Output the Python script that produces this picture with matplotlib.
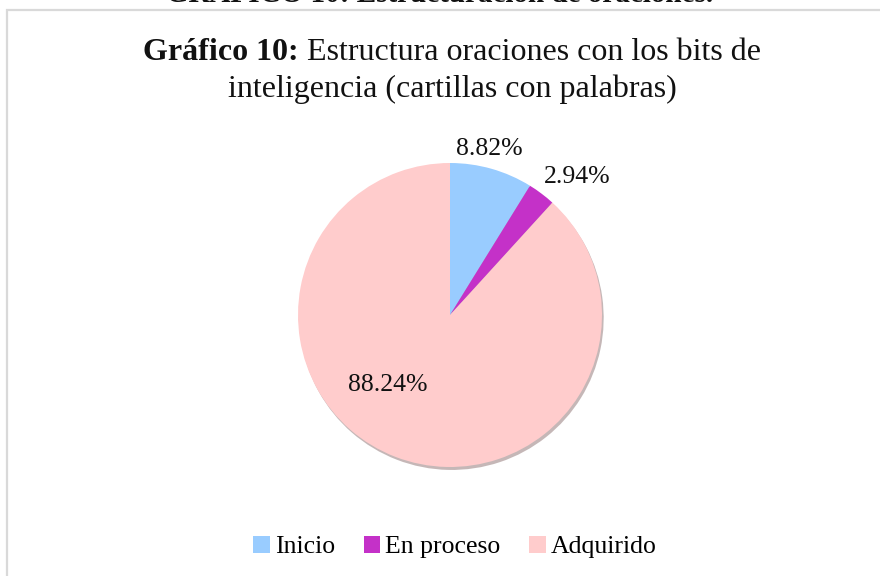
import matplotlib
matplotlib.use('Agg')
import matplotlib.pyplot as plt
from matplotlib.patches import Rectangle, Patch

categories = ['Inicio', 'En proceso', 'Adquirido']
percentages = [8.82, 2.94, 88.24]
colors = ['#99CCFF', '#C431C8', '#FFCCCC']
# where Excel put the data labels (pie radius units)
label_pos = [(0.26, 1.09), (0.84, 0.91), (-0.41, -0.46)]

plt.rcParams['font.family'] = ['Liberation Serif', 'DejaVu Serif']

W, H = 880, 576
fig = plt.figure(figsize=(W / 100, H / 100), dpi=100)

# chart-area frame, cut off at right and bottom
fig.patches.append(Rectangle((7 / W, -0.1), 1.1, 1 - 10 / H + 0.1, transform=fig.transFigure,
                             fill=False, edgecolor='#d9d9d9', linewidth=1.6))

# heading of the page, mostly cropped off the top
fig.text(0.5, 1 - 2 / H, 'GRÁFICO 10: Estructuración de oraciones.', ha='center', va='baseline',
         fontsize=21, fontweight='bold', color='#111111')

# title line one: bold part + regular part, centered together
tcx = 452
t1 = fig.text(0, 1 - 60 / H, 'Gráfico 10: ', ha='left', va='baseline', fontsize=23,
              fontweight='bold', color='#111111')
t2 = fig.text(0, 1 - 60 / H, 'Estructura oraciones con los bits de', ha='left', va='baseline',
              fontsize=23, color='#111111')
fig.canvas.draw()
r = fig.canvas.get_renderer()
bold_w = t1.get_window_extent(r).width
rest_w = t2.get_window_extent(r).width
x0 = tcx - (bold_w + rest_w) / 2
t1.set_x(x0 / W)
t2.set_x((x0 + bold_w) / W)
fig.text(tcx / W, 1 - 97 / H, 'inteligencia (cartillas con palabras)', ha='center', va='baseline',
         fontsize=23, color='#111111')

cx, cy, rad = 450, 315, 152
ax = fig.add_axes([(cx - rad) / W, (H - cy - rad) / H, 2 * rad / W, 2 * rad / H])
wedges, _, autotexts = ax.pie(percentages, colors=colors, startangle=90, counterclock=False,
                              autopct=lambda p: '', shadow={'ox': 0.008, 'oy': -0.014, 'shade': 0.45},
                              wedgeprops={'linewidth': 0})
for txt, p, (lx, ly) in zip(autotexts, percentages, label_pos):
    txt.set_text('{:.2f}%'.format(p))
    txt.set_position((lx, ly))
    txt.set_fontsize(18.5)
    txt.set_color('#111111')
    txt.set_clip_on(False)
ax.set_xlim(-1, 1)
ax.set_ylim(-1, 1)
ax.set_aspect('equal')
ax.axis('off')

handles = [Patch(facecolor=c, edgecolor='none') for c in colors]
fig.legend(handles, categories, loc='center', bbox_to_anchor=(455 / W, 1 - 547 / H), ncol=3,
           frameon=False, fontsize=18.5, handlelength=0.65, handleheight=0.65, handletextpad=0.2,
           columnspacing=1.1)

fig.savefig('out.png', dpi=100)
